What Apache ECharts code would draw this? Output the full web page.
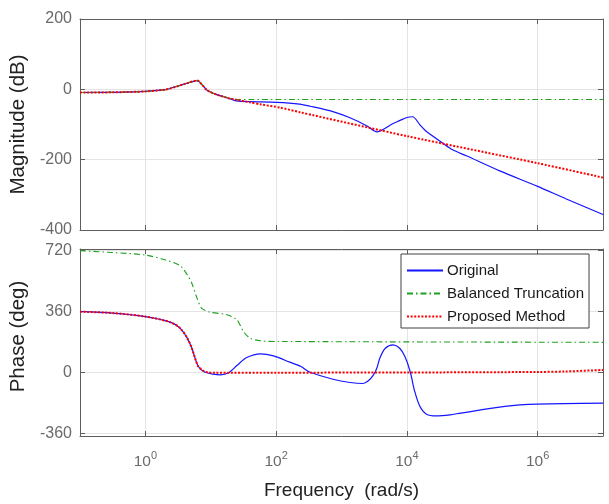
<!DOCTYPE html>
<html>
<head>
<meta charset="utf-8">
<script src="https://cdn.jsdelivr.net/npm/echarts@6/dist/echarts.min.js"></script>
<style>
  html, body { margin: 0; padding: 0; background: #fff; }
  #chart { width: 609px; height: 504px; }
</style>
</head>
<body>
<div id="chart"></div>
<script>
// frequencies in rad/s, magnitude in dB, phase in deg
const magW_orig = [0.1, 0.316, 1, 2.0, 2.4, 3.8, 6.17, 8.71, 12.3, 17.8, 25.1, 39.8, 102, 229, 331, 759, 1349, 2455, 3467, 6166, 7762, 10000, 12303, 15849, 19953, 35481, 50119, 81283, 263027, 1e6, 2.69e6, 1e7]
const magDb_orig = [-9, -8.5, -6, -1, 2.5, 14, 25, -2, -15, -24, -33, -35, -37, -42, -48, -64, -81, -104, -121, -97, -89, -80, -78, -101, -120, -153, -172, -189, -232, -276, -311, -356]

const magW_bt = [0.1, 0.316, 1, 2.0, 2.4, 3.8, 6.17, 8.71, 12.3, 17.8, 25.1, 39.8, 1e7]
const magDb_bt = [-9, -8.5, -6, -1, 2.5, 14, 25, -2, -15, -23, -29, -29, -29]

const magW_pm = [0.1, 0.316, 1, 2.0, 2.4, 3.8, 6.17, 8.71, 12.3, 17.8, 25.1, 39.8, 58.9, 115, 229, 1e4, 1e6, 1e7]
const magDb_pm = [-9, -8.5, -6, -1, 2.5, 14, 25, -2, -15, -24, -30, -37, -43, -52, -65, -133, -210, -251]

const phW_orig = [0.1, 0.316, 1, 2.4, 3.39, 4.37, 5.13, 5.75, 6.46, 7.76, 10.96, 14.1, 19.05, 25.1, 35.5, 57.5, 91.2, 162, 240, 331, 741, 1349, 2138, 2570, 3090, 3467, 3890, 4677, 6166, 7762, 9333, 11220, 13183, 15849, 19953, 28184, 45709, 66069, 316228, 1e6, 1e7]
const phDeg_orig = [358, 350, 329, 296, 261, 202, 143, 84, 34, 5, -11, -15, -1, 40, 87, 109, 97, 60, 34, 0, -41, -60, -66, -50, -15, 24, 87, 142, 162, 142, 93, 5, -113, -202, -247, -257, -251, -241, -201, -188, -182]

const phW_bt = [0.1, 0.316, 1, 2.0, 3.39, 4.37, 5.13, 6.17, 7.24, 9.77, 17.8, 25.1, 31.6, 39.8, 57.5, 115, 1e7]
const phDeg_bt = [718, 707, 692, 664, 630, 576, 526, 438, 379, 355, 340, 310, 241, 202, 186, 182, 177]

const phW_pm = [0.1, 0.316, 1, 2.4, 3.39, 4.37, 5.13, 5.75, 6.46, 7.76, 8.91, 10.96, 100, 1e4, 1e6, 2.69e6, 1e7]
const phDeg_pm = [358, 350, 329, 296, 261, 202, 143, 84, 34, 9, 0, -2, -2, -1, 2, 5, 14]

const xTicks = [1, 100, 1e4, 1e6]
const magTicks = [-400, -200, 0, 200]
const phTicks = [-360, 0, 360, 720]

const names = ['Original', 'Balanced Truncation', 'Proposed Method']

const FONT = "'Liberation Sans', Arial, sans-serif"
const boxColor = '#5e5e5e'
const gridColor = '#e4e4e4'
const labelColor = '#6a6a6a'

const styles = [
  { color: '#1414ff', width: 1.2, type: 'solid' },
  { color: '#1fa01f', width: 1.1, type: [6, 3, 1.5, 3] },
  { color: '#ff0000', width: 2, type: [2, 1.6] }
]

function pairs(w, v) {
  return w.map((x, i) => [x, v[i]])
}

function xAxisDef(gridIndex, position, showLabel) {
  return {
    type: 'log',
    logBase: 10,
    gridIndex: gridIndex,
    position: position,
    min: 0.1,
    max: 1e7,
    axisLine: { show: true, onZero: false, lineStyle: { color: boxColor, width: 1 } },
    axisTick: { show: true, inside: true, length: 5, customValues: xTicks, lineStyle: { color: boxColor } },
    minorTick: { show: false },
    splitLine: { show: position === 'bottom', lineStyle: { color: gridColor, width: 1 } },
    axisLabel: {
      show: showLabel,
      customValues: xTicks,
      margin: 14,
      color: labelColor,
      fontFamily: FONT,
      formatter: function (v) {
        return '{b|10}{s|' + Math.round(Math.log10(v)) + '}'
      },
      rich: {
        b: { fontSize: 15.5, fontFamily: FONT, color: labelColor, lineHeight: 20, verticalAlign: 'bottom' },
        s: { fontSize: 11, fontFamily: FONT, color: labelColor, lineHeight: 20, verticalAlign: 'top' }
      }
    }
  }
}

function yAxisDef(gridIndex, position, min, max, ticks, name, namePad) {
  const left = position === 'left'
  return {
    type: 'value',
    gridIndex: gridIndex,
    position: position,
    min: min,
    max: max,
    name: left ? name : '',
    nameLocation: 'middle',
    nameGap: 45,
    nameTextStyle: { fontFamily: FONT, fontSize: 20.5, color: '#222', padding: namePad || 0 },
    axisLine: { show: true, onZero: false, lineStyle: { color: boxColor, width: 1 } },
    axisTick: { show: true, inside: true, length: 5, customValues: ticks, lineStyle: { color: boxColor } },
    splitLine: { show: left, lineStyle: { color: gridColor, width: 1 } },
    axisLabel: {
      show: left,
      customValues: ticks,
      margin: 8,
      color: labelColor,
      fontFamily: FONT,
      fontSize: 16
    }
  }
}

const series = []
const magW = [magW_orig, magW_bt, magW_pm]
const magDb = [magDb_orig, magDb_bt, magDb_pm]
const phW = [phW_orig, phW_bt, phW_pm]
const phDeg = [phDeg_orig, phDeg_bt, phDeg_pm]
for (let i = 0; i < 3; i++) {
  series.push({
    name: names[i],
    type: 'line',
    xAxisIndex: 0,
    yAxisIndex: 0,
    data: pairs(magW[i], magDb[i]),
    showSymbol: false,
    symbol: 'none',
    smooth: 0.25,
    z: 10 + i,
    lineStyle: styles[i],
    itemStyle: { color: styles[i].color }
  })
  series.push({
    name: names[i],
    type: 'line',
    xAxisIndex: 1,
    yAxisIndex: 1,
    data: pairs(phW[i], phDeg[i]),
    showSymbol: false,
    symbol: 'none',
    smooth: 0.3,
    z: 10 + i,
    lineStyle: styles[i],
    itemStyle: { color: styles[i].color }
  })
}

const chart = echarts.init(document.getElementById('chart'), null, { renderer: 'canvas' })
chart.setOption({
  animation: false,
  backgroundColor: '#ffffff',
  textStyle: { fontFamily: FONT },
  grid: [
    { left: 80, right: 6, top: 19, height: 211 },
    { left: 80, right: 6, top: 249, height: 187 }
  ],
  xAxis: [
    xAxisDef(0, 'bottom', false),
    Object.assign(xAxisDef(1, 'bottom', true), {
      name: 'Frequency  (rad/s)',
      nameLocation: 'middle',
      nameGap: 45,
      nameTextStyle: { fontFamily: FONT, fontSize: 19, color: '#222' }
    }),
    xAxisDef(0, 'top', false),
    xAxisDef(1, 'top', false)
  ],
  yAxis: [
    yAxisDef(0, 'left', -400, 200, magTicks, 'Magnitude (dB)'),
    yAxisDef(1, 'left', -376, 728, phTicks, 'Phase (deg)', [0, 0, 0, 12]),
    yAxisDef(0, 'right', -400, 200, magTicks, ''),
    yAxisDef(1, 'right', -376, 728, phTicks, '')
  ],
  legend: {
    data: names,
    orient: 'vertical',
    left: 401,
    top: 254,
    padding: [9, 5, 4, 5],
    itemWidth: 36,
    itemHeight: 14,
    itemGap: 8,
    backgroundColor: '#ffffff',
    borderColor: '#404040',
    borderWidth: 1,
    borderRadius: 0,
    itemStyle: { opacity: 0 },
    textStyle: { fontFamily: FONT, fontSize: 15, color: '#1a1a1a', padding: [0, 0, 0, -1] }
  },
  series: series
})
</script>
</body>
</html>
